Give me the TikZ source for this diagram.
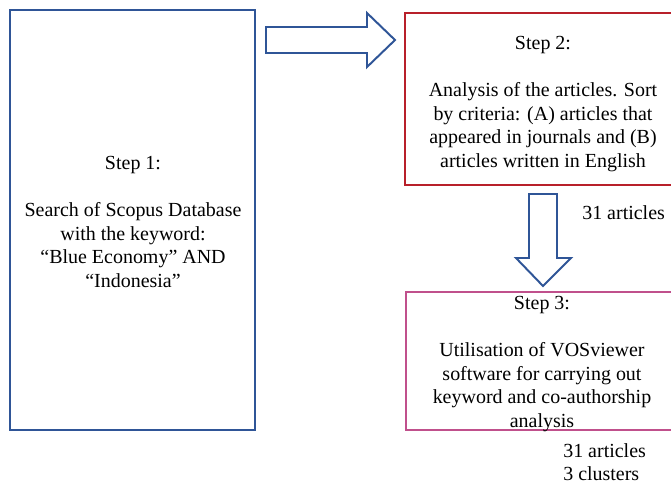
\documentclass[tikz,border=0pt]{standalone}
\usepackage{fontspec}
\setmainfont{Liberation Serif}
\usetikzlibrary{calc,positioning}
\definecolor{stepblue}{RGB}{47,85,151}
\definecolor{stepred}{RGB}{184,32,42}
\definecolor{steppink}{RGB}{192,80,140}
\tikzset{stepbox/.style={line width=1.4pt},
  steptxt/.style={align=center,font=\fontsize{14.2}{16.7}\selectfont,inner sep=0pt},
  blockarrow/.style={draw=stepblue,line width=1.4pt,line join=miter,fill=white}}

\begin{document}
\begin{tikzpicture}[x=0.025cm,y=-0.025cm]
\useasboundingbox (0,0) rectangle (671,483);
\clip (0,0) rectangle (671,483);
% --- step 1: search
\draw[stepbox,draw=stepblue] (10,10) rectangle (255,430);
\node[steptxt] (s1) at (133,222) {Step 1:\\[16.7pt]Search of Scopus Database\\with the keyword:\\``Blue Economy'' AND\\``Indonesia''};
% --- arrow 1 -> 2
\draw[blockarrow] (266,27) -- (367,27) -- (367,13) -- (395,40) -- (367,67) -- (367,53) -- (266,53) -- cycle;
% --- step 2: sorting
\draw[stepbox,draw=stepred] (405,13) rectangle (690,185);
\node[steptxt] (s2) at (543,104) {Step 2:\\[16.7pt]Analysis of the articles. Sort\\by criteria: (A) articles that\\appeared in journals and (B)\\articles written in English};
% --- arrow 2 -> 3
\draw[blockarrow] (529,194) -- (557,194) -- (557,258) -- (571,258) -- (543,286) -- (516,258) -- (529,258) -- cycle;
\node[steptxt,anchor=west] (n2) at (582,213) {31 articles};
% --- step 3: VOSviewer
\draw[stepbox,draw=steppink] (406,292) rectangle (690,430);
\node[steptxt] (s3) at (542,364) {Step 3:\\[16.7pt]Utilisation of VOSviewer\\software for carrying out\\keyword and co-authorship\\analysis};
\node[steptxt,align=left,anchor=north west] (n3) at (563,443) {31 articles\\3 clusters};
\end{tikzpicture}
\end{document}
